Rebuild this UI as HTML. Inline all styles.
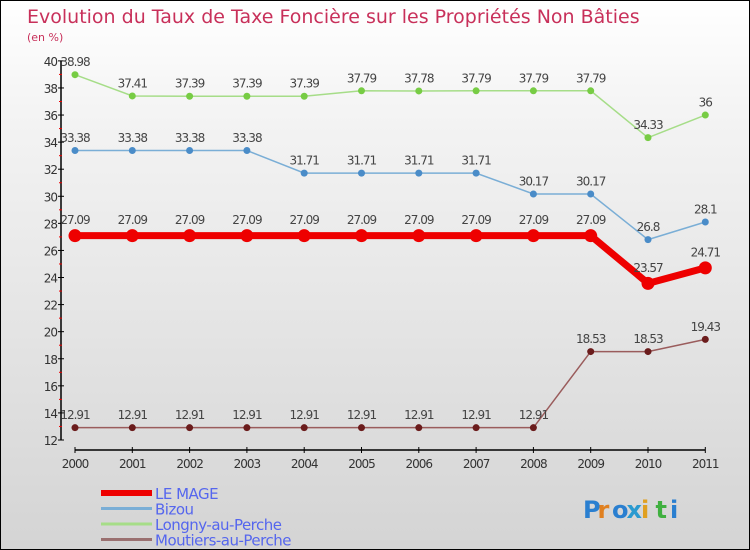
<!DOCTYPE html>
<html><head><meta charset="utf-8"><style>
body{margin:0;width:750px;height:550px;overflow:hidden}
#c{position:relative;width:748px;height:548px;border:1px solid #000;background:linear-gradient(#ffffff,#f4f4f4 20%,#d4d4d4);font-family:"DejaVu Sans","Liberation Sans",sans-serif}
</style></head><body>
<div id="c">
<svg width="748" height="548" id="s" style="position:absolute;left:0;top:0"></svg>
</div>
<script>
const years=["2000","2001","2002","2003","2004","2005","2006","2007","2008","2009","2010","2011"];
const leMage=[27.09,27.09,27.09,27.09,27.09,27.09,27.09,27.09,27.09,27.09,23.57,24.71];
const bizou=[33.38,33.38,33.38,33.38,31.71,31.71,31.71,31.71,30.17,30.17,26.8,28.1];
const longny=[38.98,37.41,37.39,37.39,37.39,37.79,37.78,37.79,37.79,37.79,34.33,36];
const moutiers=[12.91,12.91,12.91,12.91,12.91,12.91,12.91,12.91,12.91,18.53,18.53,19.43];
const yTicks=[12,14,16,18,20,22,24,26,28,30,32,34,36,38,40];
const labMage=["27.09","27.09","27.09","27.09","27.09","27.09","27.09","27.09","27.09","27.09","23.57","24.71"];
const labBizou=["33.38","33.38","33.38","33.38","31.71","31.71","31.71","31.71","30.17","30.17","26.8","28.1"];
const labLongny=["38.98","37.41","37.39","37.39","37.39","37.79","37.78","37.79","37.79","37.79","34.33","36"];
const labMout=["12.91","12.91","12.91","12.91","12.91","12.91","12.91","12.91","12.91","18.53","18.53","19.43"];
const S=document.getElementById('s');const NS='http://www.w3.org/2000/svg';
function X(i){return 74+i*57.3}
function Y(v){return 439-(v-12)*13.54}
function el(t,a,p){const e=document.createElementNS(NS,t);for(const k in a)e.setAttribute(k,a[k]);(p||S).appendChild(e);return e}
function txt(x,y,s,a){const e=el('text',Object.assign({x:x,y:y},a));e.textContent=s;return e}
let t=txt(26,22,"Evolution du Taux de Taxe Foncière sur les Propriétés Non Bâties",{fill:"#c8305a","font-size":"19"});

t=txt(26,40,"(en %)",{fill:"#c8305a","font-size":"11"});

// axes
let a=el('line',{x1:60,y1:Y(40),x2:60,y2:Y(12),stroke:"#000","stroke-width":1.5});

a=el('line',{x1:X(0),y1:449,x2:X(11),y2:449,stroke:"#000","stroke-width":1.5});

yTicks.forEach(v=>{el('line',{x1:57,y1:Y(v),x2:63,y2:Y(v),stroke:"#000"});
 const l=txt(56,Y(v)+5,String(v),{"text-anchor":"end","font-size":"12",fill:"#333","letter-spacing":"-1"});
 
 if(v<40)el('line',{x1:58,y1:Y(v+1),x2:61,y2:Y(v+1),stroke:"#e00"});});
years.forEach((yr,i)=>{el('line',{x1:X(i),y1:446,x2:X(i),y2:452,stroke:"#000"});
 const l=txt(X(i),467,yr,{"text-anchor":"middle","font-size":"12",fill:"#333","letter-spacing":"-1"});
 });
function series(name,vals,labs,line,dot,w,r){
 const g=el('g',{});
 el('polyline',{points:vals.map((v,i)=>X(i)+','+Y(v)).join(' '),fill:"none",stroke:line,"stroke-width":w},g);
 vals.forEach((v,i)=>{const c=el('circle',{cx:X(i),cy:Y(v),r:r,fill:dot},g);
  
  const l=txt(X(i),Y(v)-(r+5),labs[i],{"text-anchor":"middle","font-size":"12",fill:"#444","letter-spacing":"-1"},g);
  });
}
series('longny',longny,labLongny,"#a6dd88","#77cc44",1.5,3.5);
series('bizou',bizou,labBizou,"#7aaed6","#4a8cc8",1.5,3.5);
series('moutiers',moutiers,labMout,"#9a5c5c","#6b1c1c",1.5,3.5);
series('le-mage',leMage,labMage,"#ee0000","#ee0000",7,6.5);
// legend
const leg=[["LE MAGE","#ee0000",6],["Bizou","#7aaed6",3],["Longny-au-Perche","#a6dd88",3],["Moutiers-au-Perche","#9a7070",3]];
leg.forEach((d,i)=>{const y=492+i*15.5;const g=el('g',{});
 el('line',{x1:100,y1:y,x2:151,y2:y,stroke:d[1],"stroke-width":d[2]},g);
 txt(154,y+6,d[0],{"font-size":"15",fill:"#5566ee","letter-spacing":"-0.5"},g);});
const lg=el('g',{});
const cols=["#2a7fd0","#e08020","#2a7fd0","#2a9ad0","#e0a020","#40b040","#2a7fd0"];
"Proxiti".split('').forEach((ch,i)=>txt(582+i*14.5,517,ch,{"font-size":"24","font-weight":"bold",fill:cols[i]},lg));
</script>
</body></html>
